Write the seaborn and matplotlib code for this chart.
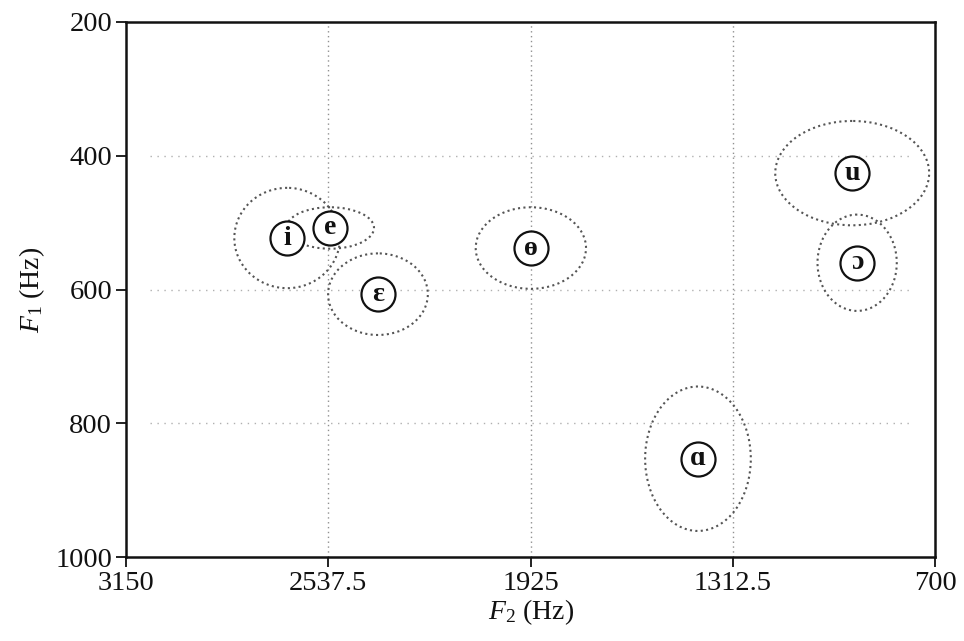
import matplotlib
matplotlib.use("Agg")
import matplotlib.pyplot as plt
from matplotlib.patches import Ellipse
import seaborn as sns
import pandas as pd

# ---- data ----
vowels = ["i", "e", "ɛ", "ɵ", "ɑ", "u", "ɔ"]
f2_mean = [2662, 2532, 2387, 1924, 1418, 951, 936]
f1_mean = [523, 508, 607, 538, 853, 426, 560]
f2_spread = [160, 133, 151, 167, 160, 233, 120]
f1_spread = [75, 31, 61, 61, 108, 78, 72]
x_ticks = [3150, 2537.5, 1925, 1312.5, 700]
x_tick_labels = ["3150", "2537.5", "1925", "1312.5", "700"]
y_ticks = [200, 400, 600, 800, 1000]
y_tick_labels = ["200", "400", "600", "800", "1000"]

df = pd.DataFrame({"vowel": vowels, "F2": f2_mean, "F1": f1_mean,
                   "sx": f2_spread, "sy": f1_spread})

sns.set_theme(style="white")
plt.rcParams["font.family"] = ["Liberation Serif", "DejaVu Serif"]
plt.rcParams["mathtext.fontset"] = "custom"
plt.rcParams["mathtext.rm"] = "Liberation Serif"
plt.rcParams["mathtext.it"] = "Liberation Serif:italic"

fig = plt.figure(figsize=(9.64, 6.41), dpi=100)
ax = fig.add_axes([0.1307, 0.131, 0.8393, 0.8347])

# grid lines
for xv in x_ticks[1:-1]:
    ax.axvline(xv, color="#909090", linestyle=(0, (1, 2.5)), linewidth=1.0, zorder=0)
for yv in y_ticks[1:-1]:
    ax.axhline(yv, xmin=0.03, xmax=0.97, color="#b0b0b0",
               linestyle=(0, (1, 4)), linewidth=1.0, zorder=0)

# ellipses
for _, r in df.iterrows():
    e = Ellipse((r.F2, r.F1), width=2 * r.sx, height=2 * r.sy, fill=False,
                edgecolor="#555555", linestyle=(0, (1, 1.6)), linewidth=1.5, zorder=1)
    ax.add_patch(e)

sns.scatterplot(data=df, x="F2", y="F1", ax=ax, marker="o", s=600,
                facecolor="white", edgecolor="#111111", linewidth=1.6, zorder=3,
                legend=False)

for _, r in df.iterrows():
    ax.text(r.F2, r.F1, r.vowel, ha="center", va="center", fontsize=20,
            fontweight="bold", color="#111111", zorder=4,
            family=["Liberation Serif", "DejaVu Serif"])

ax.set_xlim(3150, 700)
ax.set_ylim(1000, 200)
ax.set_xticks(x_ticks)
ax.set_xticklabels(x_tick_labels)
ax.set_yticks(y_ticks)
ax.set_yticklabels(y_tick_labels)
ax.tick_params(axis="both", direction="out", length=7, width=1.3, color="#111111",
               labelsize=20.5, labelcolor="#111111", pad=3,
               bottom=True, left=True)
for s in ax.spines.values():
    s.set_visible(True)
    s.set_color("#111111")
    s.set_linewidth(1.8)

ax.set_xlabel(r"$F_2$ (Hz)", fontsize=20, color="#111111", labelpad=1)
ax.set_ylabel(r"$F_1$ (Hz)", fontsize=20, color="#111111", labelpad=6)

fig.savefig("out.png", dpi=100, facecolor="white")
